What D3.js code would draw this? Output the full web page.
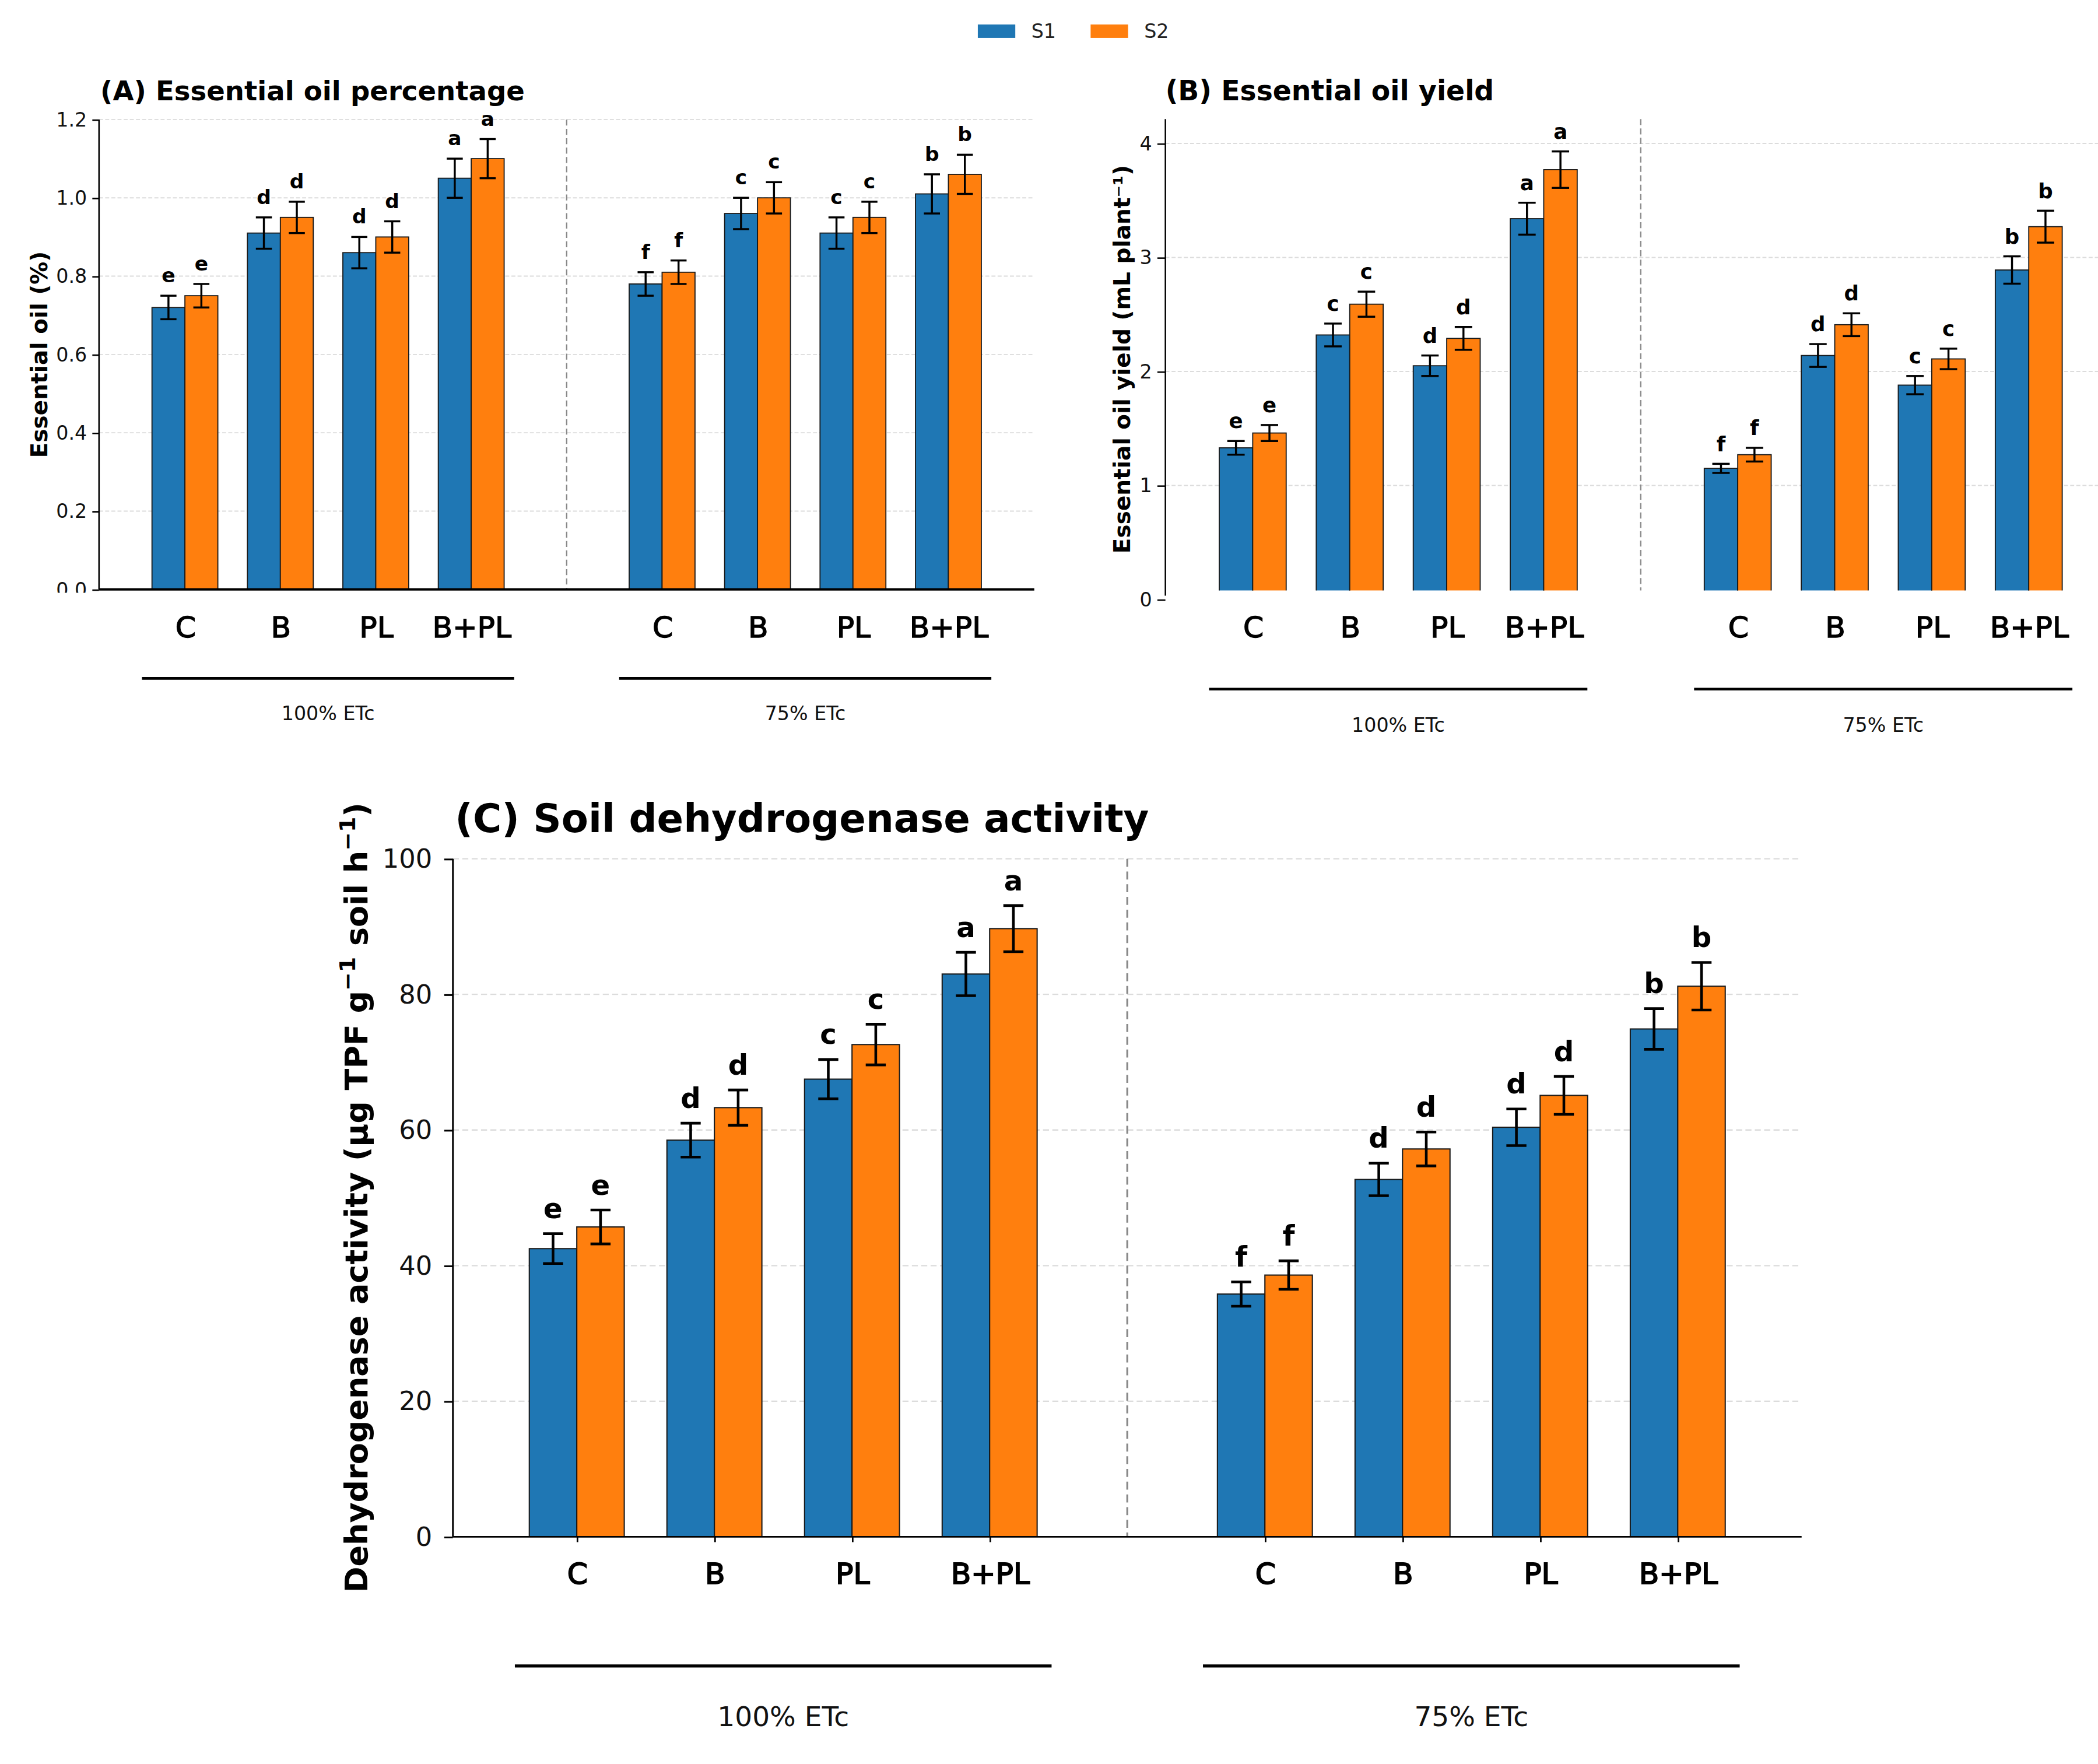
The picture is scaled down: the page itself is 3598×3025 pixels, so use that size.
<!DOCTYPE html>
<html>
<head>
<meta charset="utf-8">
<script src="https://cdn.jsdelivr.net/npm/d3@7"></script>
<style>
  body { margin: 0; background: #fff; }
  text { font-family: "DejaVu Sans", sans-serif; }
</style>
</head>
<body>
<svg id="fig"></svg>
<script>
// ---- data ----
const categories = ["C", "B", "PL", "B+PL"];
const irrigation = ["100% ETc", "75% ETc"];
const seriesNames = ["S1", "S2"];

// (A) essential oil percentage, 100% ETc then 75% ETc
const oilPctS1 = [0.72, 0.91, 0.86, 1.05, 0.78, 0.96, 0.91, 1.01];
const oilPctS2 = [0.75, 0.95, 0.90, 1.10, 0.81, 1.00, 0.95, 1.06];
const oilPctErrS1 = [0.03, 0.04, 0.04, 0.05, 0.03, 0.04, 0.04, 0.05];
const oilPctErrS2 = [0.03, 0.04, 0.04, 0.05, 0.03, 0.04, 0.04, 0.05];
const oilPctLetters = ["e", "d", "d", "a", "f", "c", "c", "b"];
const oilPctTicks = [0, 0.2, 0.4, 0.6, 0.8, 1.0, 1.2];

// (B) essential oil yield
const yieldS1 = [1.33, 2.32, 2.05, 3.34, 1.15, 2.14, 1.88, 2.89];
const yieldS2 = [1.46, 2.59, 2.29, 3.77, 1.27, 2.41, 2.11, 3.27];
const yieldErrS1 = [0.06, 0.10, 0.09, 0.14, 0.04, 0.10, 0.08, 0.12];
const yieldErrS2 = [0.07, 0.11, 0.10, 0.16, 0.06, 0.10, 0.09, 0.14];
const yieldLetters = ["e", "c", "d", "a", "f", "d", "c", "b"];
const yieldTicks = [0, 1, 2, 3, 4];

// (C) soil dehydrogenase activity
const dhaS1 = [42.5, 58.5, 67.5, 83.0, 35.8, 52.7, 60.4, 74.9];
const dhaS2 = [45.7, 63.3, 72.6, 89.7, 38.6, 57.2, 65.1, 81.2];
const dhaErrS1 = [2.2, 2.5, 2.9, 3.2, 1.8, 2.4, 2.7, 3.0];
const dhaErrS2 = [2.5, 2.6, 3.0, 3.4, 2.1, 2.5, 2.8, 3.5];
const dhaLetters = ["e", "d", "c", "a", "f", "d", "d", "b"];
const dhaTicks = [0, 20, 40, 60, 80, 100];

// ---- figure ----
const W = 1568, H = 1318.3;
const svg = d3.select("#fig")
    .attr("width", 3598)
    .attr("height", 3025)
    .attr("viewBox", `0 0 ${W} ${H}`);

const colors = ["#1f77b4", "#ff7f0e"];
// slot index of each bar group; slot 4 is the gap with the dashed separator
const slots = [0, 1, 2, 3, 5, 6, 7, 8];
const barW = 0.345;

// legend
const legend = svg.append("g");
seriesNames.forEach((name, i) => {
    const lx = 730.8 + i * 84.3;
    legend.append("rect")
        .attr("x", lx).attr("y", 18.3)
        .attr("width", 28).attr("height", 10)
        .attr("fill", colors[i]);
    legend.append("text")
        .attr("x", lx + 40).attr("y", 28.4)
        .attr("font-size", 14.5)
        .attr("fill", "#222")
        .text(name);
});

function drawPanel(p) {
    const g = svg.append("g");
    const x = d3.scaleLinear().domain([-0.9, 8.9]).range([p.left, p.right]);
    const y = d3.scaleLinear().domain([0, p.yMax]).range([p.zeroY, p.topY]);

    // grid
    g.append("g").selectAll("line")
        .data(p.ticks.filter((t) => t > 0))
        .join("line")
        .attr("x1", p.left).attr("x2", p.right)
        .attr("y1", (d) => y(d)).attr("y2", (d) => y(d))
        .attr("stroke", "#dcdcdc")
        .attr("stroke-width", p.gridW)
        .attr("stroke-dasharray", p.gridDash);

    // separator between irrigation levels
    g.append("line")
        .attr("x1", x(4)).attr("x2", x(4))
        .attr("y1", p.spineTop).attr("y2", p.barBase)
        .attr("stroke", "#888")
        .attr("stroke-width", p.sepW)
        .attr("stroke-dasharray", p.sepDash);

    // bars
    const clipId = "clip" + p.id;
    svg.append("clipPath").attr("id", clipId)
        .append("rect")
        .attr("x", p.left).attr("y", 0)
        .attr("width", W).attr("height", p.barBase);
    const bars = g.append("g").attr("clip-path", `url(#${clipId})`);
    p.series.forEach((vals, s) => {
        bars.append("g").selectAll("rect")
            .data(vals)
            .join("rect")
            .attr("x", (d, i) => x(slots[i] + (s === 0 ? -barW : 0)))
            .attr("width", x(barW) - x(0))
            .attr("y", (d) => y(d))
            .attr("height", (d) => y(0) - y(d))
            .attr("fill", colors[s])
            .attr("stroke", "#1a1a1a")
            .attr("stroke-width", p.edgeW);
    });

    // error bars and letters
    p.series.forEach((vals, s) => {
        const errs = p.errors[s];
        const cx = (i) => x(slots[i] + (s === 0 ? -barW / 2 : barW / 2));
        const eg = g.append("g")
            .attr("stroke", "#000")
            .attr("stroke-width", p.errW);
        vals.forEach((v, i) => {
            eg.append("line")
                .attr("x1", cx(i)).attr("x2", cx(i))
                .attr("y1", y(v - errs[i])).attr("y2", y(v + errs[i]));
            [v - errs[i], v + errs[i]].forEach((e) => {
                eg.append("line")
                    .attr("x1", cx(i) - p.cap / 2).attr("x2", cx(i) + p.cap / 2)
                    .attr("y1", y(e)).attr("y2", y(e));
            });
        });
        g.append("g").selectAll("text")
            .data(vals)
            .join("text")
            .attr("x", (d, i) => cx(i))
            .attr("y", (d, i) => y(d + errs[i]) - p.letterGap)
            .attr("text-anchor", "middle")
            .attr("font-weight", "bold")
            .attr("font-size", p.letterSize)
            .text((d, i) => p.letters[i]);
    });

    // y axis
    const yAxis = g.append("g")
        .attr("transform", `translate(${p.left},0)`)
        .call(d3.axisLeft(y)
            .tickValues(p.ticks)
            .tickFormat(p.fmt)
            .tickSize(p.yTick)
            .tickPadding(p.yPad));
    yAxis.select(".domain").remove();
    yAxis.selectAll(".tick line").attr("stroke", "#000").attr("stroke-width", p.spineW);
    yAxis.selectAll(".tick text")
        .attr("font-size", p.tickSize)
        .attr("font-family", "DejaVu Sans")
        .attr("fill", "#111");
    if (p.tickClipY) {
        // the lowest tick label is cut off in the original figure
        const tcId = "tickclip" + p.id;
        svg.append("clipPath").attr("id", tcId)
            .append("rect")
            .attr("x", -p.left).attr("y", 0)
            .attr("width", p.left * 2).attr("height", p.tickClipY);
        yAxis.attr("clip-path", `url(#${tcId})`);
    }
    g.append("line")
        .attr("x1", p.left).attr("x2", p.left)
        .attr("y1", p.spineTop).attr("y2", p.spineBottom)
        .attr("stroke", "#000")
        .attr("stroke-width", p.spineW);

    // x axis
    const xAxis = g.append("g")
        .attr("transform", `translate(0,${p.barBase})`)
        .call(d3.axisBottom(x)
            .tickValues(slots)
            .tickFormat((d, i) => categories[i % 4])
            .tickSize(p.xTick)
            .tickPadding(p.xPad));
    xAxis.select(".domain").remove();
    xAxis.selectAll(".tick line").attr("stroke", "#000").attr("stroke-width", 1.2);
    xAxis.selectAll(".tick text")
        .attr("font-size", p.catSize)
        .attr("font-family", "DejaVu Sans")
        .attr("fill", "#000")
        .attr("stroke", "#000")
        .attr("stroke-width", p.catStroke);
    if (p.xSpine) {
        g.append("line")
            .attr("x1", p.left).attr("x2", p.right)
            .attr("y1", p.barBase).attr("y2", p.barBase)
            .attr("stroke", "#000")
            .attr("stroke-width", p.xSpineW);
    }

    // irrigation brackets
    irrigation.forEach((lab, k) => {
        const a = k * 5;
        g.append("line")
            .attr("x1", x(a - 0.45)).attr("x2", x(a + 3.45))
            .attr("y1", p.bracketY).attr("y2", p.bracketY)
            .attr("stroke", "#000")
            .attr("stroke-width", p.bracketW);
        g.append("text")
            .attr("x", x(a + 1.5)).attr("y", p.bracketLabelY)
            .attr("text-anchor", "middle")
            .attr("font-size", p.bracketSize)
            .attr("fill", "#111")
            .text(lab);
    });

    // title
    g.append("text")
        .attr("x", p.titleX).attr("y", p.titleY)
        .attr("font-weight", "bold")
        .attr("font-size", p.titleSize)
        .text(p.title);

    // y label
    const yl = g.append("text")
        .attr("transform", `translate(${p.yLabelX},${p.yLabelY}) rotate(-90)`)
        .attr("text-anchor", "middle")
        .attr("font-weight", "bold")
        .attr("font-size", p.yLabelSize);
    p.yLabel(yl);
}

drawPanel({
    id: "A",
    left: 74, right: 773, zeroY: 440.5, topY: 89.3, yMax: 1.2,
    spineTop: 89.3, spineBottom: 440.5, barBase: 440.5, tickClipY: 443,
    series: [oilPctS1, oilPctS2], errors: [oilPctErrS1, oilPctErrS2],
    letters: oilPctLetters, ticks: oilPctTicks, fmt: d3.format(".1f"),
    gridW: 0.8, gridDash: "3,1.6", sepW: 1, sepDash: "4.5,2.5",
    edgeW: 0.8, errW: 1.5, cap: 12, letterGap: 10, letterSize: 15,
    yTick: 5, yPad: 4, tickSize: 14.5, spineW: 1.1,
    xTick: 0, xPad: 20, catSize: 22, catStroke: 0.6, xSpine: true, xSpineW: 1.8,
    bracketY: 507, bracketW: 2, bracketLabelY: 538, bracketSize: 14.5,
    title: "(A) Essential oil percentage", titleX: 75, titleY: 75, titleSize: 20.3,
    yLabelX: 35.5, yLabelY: 265, yLabelSize: 17,
    yLabel: (t) => t.text("Essential oil (%)")
});

drawPanel({
    id: "B",
    left: 871, right: 1581.5, zeroY: 448, topY: 107.2, yMax: 4,
    spineTop: 89, spineBottom: 445.2, barBase: 441.3,
    series: [yieldS1, yieldS2], errors: [yieldErrS1, yieldErrS2],
    letters: yieldLetters, ticks: yieldTicks, fmt: d3.format("d"),
    gridW: 0.8, gridDash: "3,1.6", sepW: 1, sepDash: "4.5,2.5",
    edgeW: 0.8, errW: 1.5, cap: 13, letterGap: 9.5, letterSize: 15.5,
    yTick: 6, yPad: 4, tickSize: 14.5, spineW: 1.1,
    xTick: 0, xPad: 19.2, catSize: 22, catStroke: 0.6, xSpine: false,
    bracketY: 515, bracketW: 2, bracketLabelY: 547, bracketSize: 14.5,
    title: "(B) Essential oil yield", titleX: 871, titleY: 75, titleSize: 20.6,
    yLabelX: 844.5, yLabelY: 268.5, yLabelSize: 17,
    yLabel: (t) => t.text("Essential oil yield (mL plant\u207B\u00B9)")
});

drawPanel({
    id: "C",
    left: 338.5, right: 1346.5, zeroY: 1148.5, topY: 641.8, yMax: 100,
    spineTop: 641.8, spineBottom: 1148.5, barBase: 1148.5,
    series: [dhaS1, dhaS2], errors: [dhaErrS1, dhaErrS2],
    letters: dhaLetters, ticks: dhaTicks, fmt: d3.format("d"),
    gridW: 1, gridDash: "4.5,2.5", sepW: 1.4, sepDash: "6,3.5",
    edgeW: 0.9, errW: 2, cap: 15, letterGap: 11.5, letterSize: 21,
    yTick: 6.5, yPad: 9, tickSize: 19.5, spineW: 1.3,
    xTick: 4, xPad: 15.5, catSize: 22, catStroke: 0.8, xSpine: true, xSpineW: 1.3,
    bracketY: 1245, bracketW: 2.3, bracketLabelY: 1290, bracketSize: 20.5,
    title: "(C) Soil dehydrogenase activity", titleX: 340, titleY: 622, titleSize: 29.3,
    yLabelX: 274.5, yLabelY: 895, yLabelSize: 23.5,
    yLabel: (t) => {
        t.append("tspan").text("Dehydrogenase activity (\u03BCg TPF g");
        t.append("tspan").attr("dy", -9).attr("font-size", 16.5).text("\u22121");
        t.append("tspan").attr("dy", 9).text(" soil h");
        t.append("tspan").attr("dy", -9).attr("font-size", 16.5).text("\u22121");
        t.append("tspan").attr("dy", 9).text(")");
    }
});
</script>
</body>
</html>
